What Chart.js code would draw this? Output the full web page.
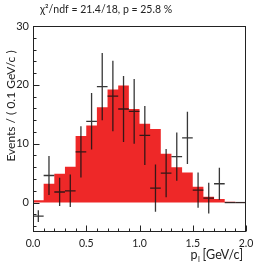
<!DOCTYPE html>
<html><head><meta charset="utf-8">
<script src="https://cdn.jsdelivr.net/npm/chart.js@4/dist/chart.umd.min.js"></script>
<style>html,body{margin:0;padding:0;background:#fff;}canvas{display:block;}</style>
</head><body>
<canvas id="c" width="273" height="268"></canvas>
<script>
// Bin layout (GeV/c)
const binLow = [0.0,0.1,0.2,0.3,0.4,0.5,0.6,0.7,0.8,0.9,1.0,1.1,1.2,1.3,1.4,1.5,1.6,1.7,1.8,1.9];
const binHigh = 2.0;
const binCenters = [0.05,0.15,0.25,0.35,0.45,0.55,0.65,0.75,0.85,0.95,1.05,1.15,1.25,1.35,1.45,1.55,1.65,1.75,1.85,1.95];
const binHalfWidth = 0.05;
// Fitted histogram (red)
const histValues = [0.4,3.2,4.9,6.1,11.3,13.1,16.2,19.2,19.9,15.9,13.4,12.5,8.3,6.0,5.1,2.7,1.0,0.6,0.15,0.1];
// Data points with errors
const dataValues = [-2.3,4.6,1.8,2.0,8.6,13.8,19.7,18.1,15.9,15.5,11.4,2.45,5.0,7.8,11.0,2.1,0.75,3.2,0.0,0.0];
const dataErrors = [1.0,3.3,2.4,2.75,4.35,4.8,5.7,6.0,5.6,5.5,5.0,4.0,4.1,4.1,4.45,3.0,2.6,2.7,0.0,0.0];
// Axis ticks
const xTickLabels = [0.0,0.5,1.0,1.5,2.0];
const yTickLabels = [0,10,20,30];
const titleText = "\u03C7\u00B2/ndf = 21.4/18, p = 25.8 %";
const yTitle = "Events / ( 0.1 GeV/c )";

const FONT = "Lato, 'Open Sans', 'Liberation Sans', sans-serif";
const TXT = '#222';
const RED = 'rgb(238,40,40)';

const histPts = binLow.map((x,i)=>({x:x,y:histValues[i]}));
histPts.push({x:binHigh,y:histValues[histValues.length-1]});
const dataPts = binCenters.map((x,i)=>({x:x,y:dataValues[i],e:dataErrors[i]}));

const deco = {
  id:'deco',
  afterDatasetsDraw(chart){
    const ctx=chart.ctx, xs=chart.scales.x, ys=chart.scales.y;
    ctx.save();
    ctx.strokeStyle='rgba(20,20,20,0.85)';
    ctx.lineWidth=1.3;
    dataPts.forEach(p=>{
      const px=xs.getPixelForValue(p.x);
      const py=ys.getPixelForValue(p.y);
      ctx.beginPath();
      if(p.e>0){
        ctx.moveTo(px, ys.getPixelForValue(p.y+p.e));
        ctx.lineTo(px, ys.getPixelForValue(p.y-p.e));
      }
      ctx.moveTo(xs.getPixelForValue(p.x-binHalfWidth), py);
      ctx.lineTo(xs.getPixelForValue(p.x+binHalfWidth), py);
      ctx.stroke();
    });
    ctx.restore();
  },
  afterDraw(chart){
    const ctx=chart.ctx, a=chart.chartArea, xs=chart.scales.x, ys=chart.scales.y;
    ctx.save();
    ctx.strokeStyle='#222';
    ctx.lineWidth=1;
    const L=Math.round(a.left)+0.5, R=Math.round(a.right)-0.5, T=Math.round(a.top)+0.5, B=Math.round(a.bottom)-0.5;
    ctx.strokeRect(L,T,R-L,B-T);
    ctx.beginPath();
    for(let i=0;i<=20;i++){
      const v=i/10;
      const px=Math.round(xs.getPixelForValue(v))+0.5;
      const len=(i%5===0)?6:3;
      ctx.moveTo(px,B); ctx.lineTo(px,B-len);
    }
    for(let v=-4;v<=30;v+=2){
      const py=Math.round(ys.getPixelForValue(v))+0.5;
      const len=(v%10===0)?6:3;
      ctx.moveTo(L,py); ctx.lineTo(L+len,py);
    }
    ctx.stroke();
    // titles
    ctx.fillStyle=TXT;
    ctx.font="10.5px "+FONT;
    ctx.textBaseline='middle';
    ctx.textAlign='left';
    ctx.fillText(titleText,40,10);
    // y title
    ctx.save();
    ctx.translate(11,106);
    ctx.rotate(-Math.PI/2);
    ctx.font="12px "+FONT;
    ctx.textAlign='center';
    ctx.textBaseline='middle';
    ctx.fillText(yTitle,0,0);
    ctx.restore();
    // x title
    ctx.font="12.5px "+FONT;
    ctx.textBaseline='alphabetic';
    const wp=ctx.measureText('p').width;
    const wr=ctx.measureText(' [GeV/c]').width;
    ctx.font="8px "+FONT;
    const wl=ctx.measureText('l').width;
    const right=243;
    const start=right-(wp+wl+wr);
    ctx.font="12.5px "+FONT;
    ctx.fillText('p',start,259);
    ctx.font="8px "+FONT;
    ctx.fillText('l',start+wp+0.5,262);
    ctx.font="12.5px "+FONT;
    ctx.fillText(' [GeV/c]',start+wp+wl,259);
    ctx.restore();
  }
};

new Chart(document.getElementById('c'),{
  type:'scatter',
  data:{datasets:[
    {type:'line',data:histPts,stepped:'before',fill:'origin',backgroundColor:RED,borderColor:RED,borderWidth:0,pointRadius:0,order:2},
    {type:'scatter',data:dataPts,pointRadius:0,order:1}
  ]},
  options:{
    responsive:false,animation:false,devicePixelRatio:1,
    layout:{padding:{left:0,right:27,top:26,bottom:0}},
    plugins:{legend:{display:false},tooltip:{enabled:false},title:{display:false}},
    scales:{
      x:{type:'linear',min:0,max:2,
        grid:{display:false,drawTicks:false},border:{display:false},
        afterBuildTicks:s=>{s.ticks=xTickLabels.map(v=>({value:v}));},
        ticks:{callback:v=>Number(v).toFixed(1),font:{family:FONT,size:10.5},color:TXT,padding:5,maxRotation:0,autoSkip:false},
        afterFit:s=>{s.height=36;}
      },
      y:{type:'linear',min:-5,max:30,
        grid:{display:false,drawTicks:false},border:{display:false},
        afterBuildTicks:s=>{s.ticks=yTickLabels.map(v=>({value:v}));},
        ticks:{callback:v=>String(v),font:{family:FONT,size:11},color:TXT,padding:4,autoSkip:false},
        afterFit:s=>{s.width=33;}
      }
    }
  },
  plugins:[deco]
});
</script>
</body></html>
